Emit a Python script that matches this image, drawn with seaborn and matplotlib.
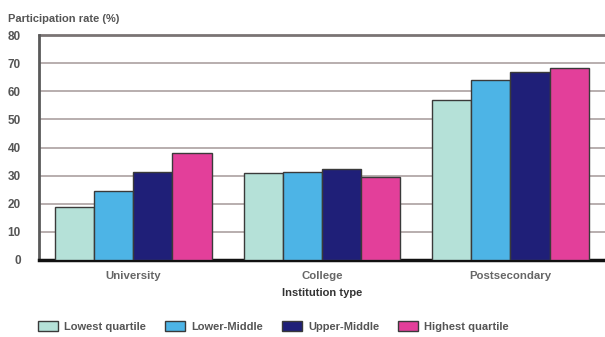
import matplotlib
matplotlib.use("Agg")
import matplotlib.pyplot as plt
import seaborn as sns
import pandas as pd

# Participation rates by institution type and income quartile
institutions = ["University", "College", "Postsecondary"]
quartiles = ["Lowest quartile", "Lower-Middle", "Upper-Middle", "Highest quartile"]
lowest = [19.0, 31.0, 57.0]
lower_middle = [24.6, 31.2, 64.0]
upper_middle = [31.2, 32.5, 66.7]
highest = [38.1, 29.4, 68.3]
y_ticks = [0, 10, 20, 30, 40, 50, 60, 70, 80]

colors = ["#b5e1d8", "#4db4e6", "#1f1f78", "#e33f9a"]

rows = []
for q, vals in zip(quartiles, [lowest, lower_middle, upper_middle, highest]):
    for inst, v in zip(institutions, vals):
        rows.append({"Institution type": inst, "Quartile": q, "Rate": v})
df = pd.DataFrame(rows)

sns.set_style("white")
plt.rcParams["font.family"] = ["Liberation Sans", "DejaVu Sans"]

fig = plt.figure(figsize=(6.05, 3.37), dpi=100)
ax = fig.add_axes([0.0645, 0.2285, 0.935, 0.6675])

sns.barplot(data=df, x="Institution type", y="Rate", hue="Quartile",
            order=institutions, hue_order=quartiles, palette=colors,
            width=0.83, edgecolor="#3a3a3a", linewidth=1.0, saturation=1,
            ax=ax, zorder=3)

ax.set_ylim(0, 80)
ax.set_xlim(-0.5, 2.5)
ax.set_yticks(y_ticks)
ax.set_yticklabels([str(t) for t in y_ticks], fontsize=8.5, fontweight="bold", color="#555555")
ax.tick_params(axis="y", length=0, pad=13)
ax.tick_params(axis="x", length=0, pad=8, labelsize=8.2, labelcolor="#666666")
for lbl in ax.get_xticklabels():
    lbl.set_fontweight("bold")

ax.yaxis.grid(True, color="#b8aeae", linewidth=1.4, zorder=0)
ax.set_axisbelow(True)

for side in ["top", "right"]:
    ax.spines[side].set_visible(False)
ax.spines["left"].set_color("#5a5a5a")
ax.spines["left"].set_linewidth(2.0)
ax.spines["bottom"].set_color("#111111")
ax.spines["bottom"].set_linewidth(2.5)
ax.axhline(80, color="#7a7474", linewidth=2.0, zorder=2, clip_on=False)

ax.set_ylabel("")
ax.set_xlabel("Institution type", fontsize=8, fontweight="bold", color="#333333", labelpad=5)

fig.text(0.013, 0.945, "Participation rate (%)", fontsize=8, fontweight="bold",
         color="#555555", ha="left", va="center")

handles, labels = ax.get_legend_handles_labels()
ax.get_legend().remove()
fig.legend(handles, labels, loc="center", bbox_to_anchor=(0.452, 0.032), ncol=4,
           frameon=False, handlelength=1.8, handleheight=1.1,
           columnspacing=1.7, handletextpad=0.55,
           prop={"weight": "bold", "size": 8})
for t in fig.legends[0].get_texts():
    t.set_color("#555555")

fig.savefig("out.png", dpi=100)
